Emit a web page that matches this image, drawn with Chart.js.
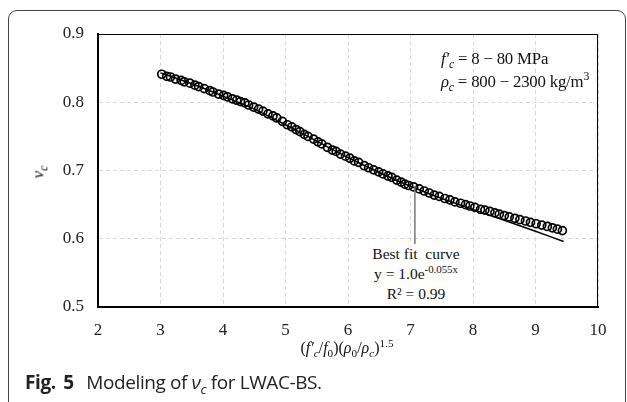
<!DOCTYPE html>
<html>
<head>
<meta charset="utf-8">
<script src="https://cdn.jsdelivr.net/npm/chart.js@4"></script>
<style>
  html, body { margin: 0; padding: 0; background: #fff; }
  #wrap { position: relative; width: 627px; height: 402px; overflow: hidden; }
  #frame { position: absolute; left: 8px; top: 10px; width: 618px; height: 430px;
           border: 1px solid #444; border-radius: 9px; box-sizing: border-box; }
  canvas { position: absolute; left: 0; top: 0; }
  .serif { position: absolute; font-family: "Liberation Serif", "Times New Roman", serif; color: #111; white-space: nowrap; }
  sub, sup { font-size: 70%; line-height: 0; }
  #ranges { left: 441px; top: 47px; font-size: 16.8px; line-height: 23px; letter-spacing: -0.2px; }
  #fitbox { left: 366px; top: 244px; width: 100px; height: 60px; background: #fff;
            text-align: center; font-size: 15.5px; line-height: 20px; }
  #xtitle { left: 247px; top: 339px; width: 200px; text-align: center; font-size: 16px; }
  #ytitle { left: 32px; top: 162px; font-size: 17px; transform: rotate(-90deg); }
  #caption { position: absolute; left: 25px; top: 369px; font-family: "Open Sans", sans-serif;
             font-size: 19px; letter-spacing: -0.4px; color: #222; white-space: nowrap; }
  #caption b { font-weight: 700; word-spacing: 3px; margin-right: 8px; }
</style>
</head>
<body>
<div id="wrap">
  <div id="frame"></div>
  <canvas id="myChart" width="627" height="402"></canvas>
  <div class="serif" id="ranges">
    <i>f′<sub>c</sub></i> = 8 − 80 MPa<br>
    <i>ρ<sub>c</sub></i> = 800 − 2300 kg/m<sup>3</sup>
  </div>
  <div class="serif" id="fitbox">
    Best fit&nbsp; curve<br>
    y = 1.0e<sup>-0.055x</sup><br>
    R² = 0.99
  </div>
  <div class="serif" id="xtitle">(<i>f′<sub>c</sub></i>/<i>f</i><sub>0</sub>)(<i>ρ</i><sub>0</sub>/<i>ρ<sub>c</sub></i>)<sup>1.5</sup></div>
  <div class="serif" id="ytitle"><i>ν<sub>c</sub></i></div>
  <div id="caption"><b>Fig. 5</b> Modeling of <i>ν<sub>c</sub></i> for LWAC-BS.</div>
</div>
<script>
var xTicks = [2, 3, 4, 5, 6, 7, 8, 9, 10];
var yTicks = [0.5, 0.6, 0.7, 0.8, 0.9];

// measured points
var pointsX = [3.02, 3.10, 3.16, 3.24, 3.33, 3.38, 3.47, 3.55, 3.61, 3.70, 3.79, 3.84, 3.93, 4.01, 4.07, 4.15,
  4.22, 4.28, 4.35, 4.41, 4.49, 4.57, 4.64, 4.72, 4.80, 4.86, 4.95, 5.03, 5.10, 5.17, 5.23, 5.30,
  5.36, 5.45, 5.52, 5.58, 5.67, 5.75, 5.81, 5.88, 5.96, 6.03, 6.10, 6.17, 6.26, 6.33, 6.41, 6.49,
  6.56, 6.64, 6.70, 6.78, 6.85, 6.91, 6.97, 7.05, 7.14, 7.22, 7.30, 7.38, 7.46, 7.55, 7.63, 7.71,
  7.80, 7.88, 7.95, 8.03, 8.12, 8.19, 8.27, 8.35, 8.42, 8.50, 8.58, 8.67, 8.75, 8.84, 8.92, 9.01,
  9.10, 9.19, 9.27, 9.35, 9.43];
var pointsY = [0.841, 0.838, 0.837, 0.834, 0.832, 0.830, 0.828, 0.825, 0.823, 0.820, 0.817, 0.815, 0.812, 0.810, 0.808, 0.805,
  0.803, 0.801, 0.799, 0.796, 0.793, 0.790, 0.787, 0.783, 0.780, 0.777, 0.772, 0.767, 0.764, 0.760, 0.757, 0.753,
  0.750, 0.746, 0.742, 0.739, 0.734, 0.730, 0.728, 0.724, 0.721, 0.718, 0.714, 0.712, 0.707, 0.704, 0.701, 0.698,
  0.695, 0.692, 0.690, 0.686, 0.683, 0.680, 0.678, 0.676, 0.673, 0.670, 0.667, 0.664, 0.662, 0.659, 0.657, 0.654,
  0.652, 0.650, 0.648, 0.646, 0.643, 0.642, 0.640, 0.638, 0.636, 0.634, 0.632, 0.630, 0.628, 0.626, 0.624, 0.622,
  0.620, 0.618, 0.616, 0.614, 0.612];

// best fit curve
var fitX = [3.0, 3.5, 4.0, 4.5, 5.0, 5.5, 6.0, 6.5, 7.0, 7.5, 8.0, 8.5, 9.0, 9.45];
var fitY = [0.843, 0.827, 0.809, 0.790, 0.767, 0.743, 0.719, 0.697, 0.677, 0.659, 0.643, 0.627, 0.611, 0.596];

function pairs(xs, ys) {
  return xs.map(function (x, i) { return { x: x, y: ys[i] }; });
}

// thin top / right border of the plot area + pointer line
var boxPlugin = {
  id: 'box',
  afterDraw: function (chart) {
    var a = chart.chartArea, c = chart.ctx;
    c.save();
    c.strokeStyle = '#000';
    c.lineWidth = 1;
    c.beginPath();
    c.moveTo(a.left, a.top + 0.5);
    c.lineTo(a.right - 0.5, a.top + 0.5);
    c.lineTo(a.right - 0.5, a.bottom);
    c.stroke();
    var px = chart.scales.x.getPixelForValue(7.07);
    c.strokeStyle = '#777';
    c.lineWidth = 1.5;
    c.beginPath();
    c.moveTo(px, chart.scales.y.getPixelForValue(0.677));
    c.lineTo(px, chart.scales.y.getPixelForValue(0.6) + 6);
    c.stroke();
    c.restore();
  }
};

var ctx = document.getElementById('myChart').getContext('2d');
var myChart = new Chart(ctx, {
  type: 'scatter',
  data: {
    datasets: [
      {
        label: 'data',
        data: pairs(pointsX, pointsY),
        pointStyle: 'circle',
        pointRadius: 4,
        borderWidth: 1.7,
        borderColor: '#000',
        backgroundColor: 'rgba(0,0,0,0)',
        order: 0
      },
      {
        label: 'fit',
        type: 'line',
        data: pairs(fitX, fitY),
        borderColor: '#000',
        borderWidth: 1.5,
        pointRadius: 0,
        tension: 0.3,
        fill: false,
        order: 1
      }
    ]
  },
  options: {
    responsive: false,
    animation: false,
    layout: { padding: { left: 0, top: 34, right: 29, bottom: 0 } },
    plugins: { legend: { display: false }, tooltip: { enabled: false } },
    scales: {
      x: {
        type: 'linear', min: 2, max: 10,
        afterBuildTicks: function (s) { s.ticks = xTicks.map(function (v) { return { value: v }; }); },
        afterFit: function (s) { s.height = 95; },
        border: { color: '#000', width: 2, dash: [4, 3] },
        grid: { color: '#d9d9d9', drawTicks: false },
        ticks: { padding: 13, color: '#222', font: { family: 'Liberation Serif', size: 17 } }
      },
      y: {
        type: 'linear', min: 0.5, max: 0.9,
        afterBuildTicks: function (s) { s.ticks = yTicks.map(function (v) { return { value: v }; }); },
        afterFit: function (s) { s.width = 98; },
        border: { color: '#000', width: 2, dash: [4, 3] },
        grid: { color: '#d9d9d9', drawTicks: false },
        ticks: { padding: 14, color: '#222', font: { family: 'Liberation Serif', size: 17 },
                 callback: function (v) { return v.toFixed(1); } }
      }
    }
  },
  plugins: [boxPlugin]
});
</script>
</body>
</html>
